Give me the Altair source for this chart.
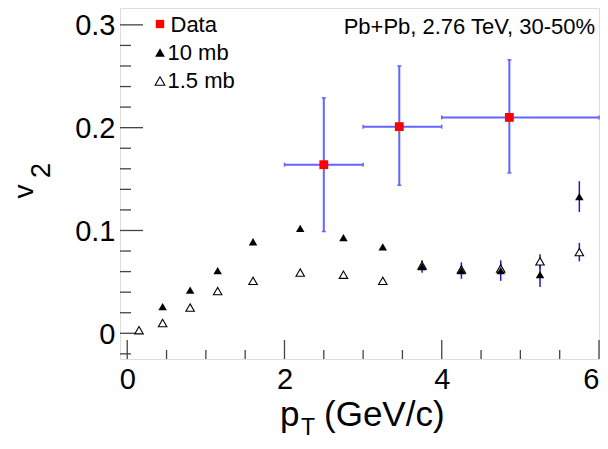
import altair as alt
import pandas as pd

# ---------------- data ----------------
data_pt = [2.50, 3.46, 4.86]
data_v2 = [0.164, 0.201, 0.210]
data_pt_lo = [2.0, 3.0, 4.0]
data_pt_hi = [3.0, 4.0, 6.0]
data_v2_lo = [0.099, 0.144, 0.156]
data_v2_hi = [0.229, 0.260, 0.266]

m10_pt = [0.45, 0.80, 1.15, 1.60, 2.20, 2.75, 3.25, 3.75, 4.25, 4.75, 5.25, 5.75]
m10_v2 = [0.026, 0.042, 0.061, 0.089, 0.102, 0.093, 0.084, 0.065, 0.061, 0.061, 0.057, 0.133]
m10_err = [0, 0, 0, 0, 0, 0, 0, 0.006, 0.008, 0.010, 0.012, 0.015]

m15_pt = [0.15, 0.45, 0.80, 1.15, 1.60, 2.20, 2.75, 3.25, 3.75, 4.25, 4.75, 5.25, 5.75]
m15_v2 = [0.003, 0.010, 0.025, 0.041, 0.051, 0.059, 0.057, 0.051, 0.066, 0.062, 0.063, 0.070, 0.079]
m15_err = [0, 0, 0, 0, 0, 0, 0, 0, 0.004, 0.004, 0.005, 0.007, 0.009]

x_major = [0, 2, 4, 6]
x_minor = [0.5, 1.0, 1.5, 2.5, 3.0, 3.5, 4.5, 5.0, 5.5]
y_major = [0.0, 0.1, 0.2, 0.3]
y_minor = [-0.02, 0.02, 0.04, 0.06, 0.08, 0.12, 0.14, 0.16, 0.18, 0.22, 0.24, 0.26, 0.28]

legend_labels = ["Data", "10 mb", "1.5 mb"]
annotation = "Pb+Pb, 2.76 TeV, 30-50%"

# ---------------- layout ----------------
FONT = "Liberation Sans"
W, H = 479, 351
XDOM = [-0.092, 6.0]
YDOM = [-0.025, 0.3164]
xs = alt.Scale(domain=XDOM, nice=False, zero=False)
ys = alt.Scale(domain=YDOM, nice=False, zero=False)

x_axis = alt.Axis(values=x_major, format="~g", title=None, ticks=False, domain=False, grid=False,
                  labelFontSize=29, labelFont=FONT, labelColor="black", labelPadding=6,
                  labelFlush=2, labelFlushOffset=0, labelOverlap=False)
y_axis = alt.Axis(values=y_major, format="~g", title=None, ticks=False, domain=False, grid=False,
                  labelFontSize=29, labelFont=FONT, labelColor="black", labelPadding=5,
                  labelFlush=False, labelOverlap=False, labelOffset=1)

df_data = pd.DataFrame({"pt": data_pt, "v2": data_v2, "ptlo": data_pt_lo,
                        "pthi": data_pt_hi, "v2lo": data_v2_lo, "v2hi": data_v2_hi})
df10 = pd.DataFrame({"pt": m10_pt, "v2": m10_v2, "err": m10_err})
df10["lo"] = df10["v2"] - df10["err"]
df10["hi"] = df10["v2"] + df10["err"]
df15 = pd.DataFrame({"pt": m15_pt, "v2": m15_v2, "err": m15_err})
df15["lo"] = df15["v2"] - df15["err"]
df15["hi"] = df15["v2"] + df15["err"]
df10e = df10[df10["err"] > 0]
df15e = df15[df15["err"] > 0]


def X(f):
    return alt.X(f, type="quantitative", scale=xs, axis=x_axis)


def Y(f):
    return alt.Y(f, type="quantitative", scale=ys, axis=y_axis)


TICK_COLOR = "#444444"

# tick marks (drawn inside the frame)
ymaj = alt.Chart(pd.DataFrame({"v": y_major})).mark_rule(color=TICK_COLOR, strokeWidth=1.3).encode(
    y=Y("v"), x=alt.value(0), x2=alt.value(23))
ymin = alt.Chart(pd.DataFrame({"v": y_minor})).mark_rule(color=TICK_COLOR, strokeWidth=1.3).encode(
    y=Y("v"), x=alt.value(0), x2=alt.value(11))
xmaj = alt.Chart(pd.DataFrame({"v": x_major})).mark_rule(color=TICK_COLOR, strokeWidth=1.3).encode(
    x=X("v"), y=alt.value(H), y2=alt.value(H - 19))
xmin = alt.Chart(pd.DataFrame({"v": x_minor})).mark_rule(color=TICK_COLOR, strokeWidth=1.3).encode(
    x=X("v"), y=alt.value(H), y2=alt.value(H - 9))

DATA_BAR = "#6464ff"
data_vbar = alt.Chart(df_data).mark_rule(color=DATA_BAR, strokeWidth=2).encode(
    x=X("pt"), y=Y("v2lo"), y2="v2hi")
data_hbar = alt.Chart(df_data).mark_rule(color=DATA_BAR, strokeWidth=2).encode(
    y=Y("v2"), x=X("ptlo"), x2="pthi")
cap_lo = alt.Chart(df_data).mark_rule(color=DATA_BAR, strokeWidth=1.5, xOffset=-2, x2Offset=2).encode(
    x=X("pt"), x2="pt", y=Y("v2lo"))
cap_hi = alt.Chart(df_data).mark_rule(color=DATA_BAR, strokeWidth=1.5, xOffset=-2, x2Offset=2).encode(
    x=X("pt"), x2="pt", y=Y("v2hi"))
cap_l = alt.Chart(df_data).mark_rule(color=DATA_BAR, strokeWidth=1.5, yOffset=-2, y2Offset=2).encode(
    y=Y("v2"), y2="v2", x=X("ptlo"))
cap_r = alt.Chart(df_data).mark_rule(color=DATA_BAR, strokeWidth=1.5, yOffset=-2, y2Offset=2).encode(
    y=Y("v2"), y2="v2", x=X("pthi"))
data_pts = alt.Chart(df_data).mark_point(shape="square", filled=True, color="#ff0000", size=78, opacity=1).encode(
    x=X("pt"), y=Y("v2"))

MODEL_BAR = "#1c1cc8"
bars10 = alt.Chart(df10e).mark_rule(color=MODEL_BAR, strokeWidth=1.5).encode(
    x=X("pt"), y=Y("lo"), y2="hi")
bars15 = alt.Chart(df15e).mark_rule(color=MODEL_BAR, strokeWidth=1.5).encode(
    x=X("pt"), y=Y("lo"), y2="hi")
open15 = alt.Chart(df15).mark_point(shape="triangle-up", filled=True, fill="white", stroke="black",
                                    strokeWidth=1.1, size=72, opacity=1).encode(x=X("pt"), y=Y("v2"))
fill10 = alt.Chart(df10).mark_point(shape="triangle-up", filled=True, color="black", size=72,
                                    opacity=1).encode(x=X("pt"), y=Y("v2"))

# legend (top-left inside the frame)
leg_sq = alt.Chart().mark_point(shape="square", filled=True, color="#ff0000", size=70, opacity=1).encode(
    x=alt.value(40), y=alt.value(16))
leg_t1 = alt.Chart().mark_point(shape="triangle-up", filled=True, color="black", size=95, opacity=1).encode(
    x=alt.value(40), y=alt.value(44.5))
leg_t2 = alt.Chart().mark_point(shape="triangle-up", filled=True, fill="white", stroke="black",
                                strokeWidth=1.1, size=95, opacity=1).encode(x=alt.value(40), y=alt.value(73))
leg_txt = [
    alt.Chart().mark_text(text=legend_labels[0], font=FONT, fontSize=22, align="left", baseline="alphabetic",
                          color="black").encode(x=alt.value(50.5), y=alt.value(23.7)),
    alt.Chart().mark_text(text=legend_labels[1], font=FONT, fontSize=22, align="left", baseline="alphabetic",
                          color="black").encode(x=alt.value(47.5), y=alt.value(52)),
    alt.Chart().mark_text(text=legend_labels[2], font=FONT, fontSize=22, align="left", baseline="alphabetic",
                          color="black").encode(x=alt.value(47.5), y=alt.value(80.3)),
]
annot = alt.Chart().mark_text(text=annotation, font=FONT, fontSize=22, align="right", baseline="alphabetic",
                              color="black").encode(x=alt.value(475), y=alt.value(26.3))

# axis titles with subscripts
TF = 35
xt_p = alt.Chart().mark_text(text="p", font=FONT, fontSize=TF, align="left", baseline="alphabetic",
                             color="black").encode(x=alt.value(160), y=alt.value(418))
xt_T = alt.Chart().mark_text(text="T", font=FONT, fontSize=23, align="left", baseline="alphabetic",
                             color="black").encode(x=alt.value(181), y=alt.value(427))
xt_u = alt.Chart().mark_text(text="(GeV/c)", font=FONT, fontSize=TF, align="left", baseline="alphabetic",
                             color="black").encode(x=alt.value(204), y=alt.value(418))
yt_v = alt.Chart().mark_text(text="v", font=FONT, fontSize=28, align="left", baseline="alphabetic",
                             angle=270, color="black").encode(x=alt.value(-87), y=alt.value(190.5))
yt_2 = alt.Chart().mark_text(text="2", font=FONT, fontSize=27, align="left", baseline="alphabetic",
                             angle=270, color="black").encode(x=alt.value(-70), y=alt.value(170))

chart = alt.layer(
    ymaj, ymin, xmaj, xmin,
    data_vbar, data_hbar, cap_lo, cap_hi, cap_l, cap_r,
    bars15, bars10, open15, fill10, data_pts,
    leg_sq, leg_t1, leg_t2, *leg_txt, annot,
    xt_p, xt_T, xt_u, yt_v, yt_2,
).properties(
    width=W, height=H,
    autosize=alt.AutoSizeParams(type="none"),
    padding={"left": 112, "top": 0, "right": 1, "bottom": 82},
).configure_view(stroke="#222222", strokeWidth=1.5).configure(background="white")

chart.save("out.html", embed_options={"renderer": "svg", "actions": False})
